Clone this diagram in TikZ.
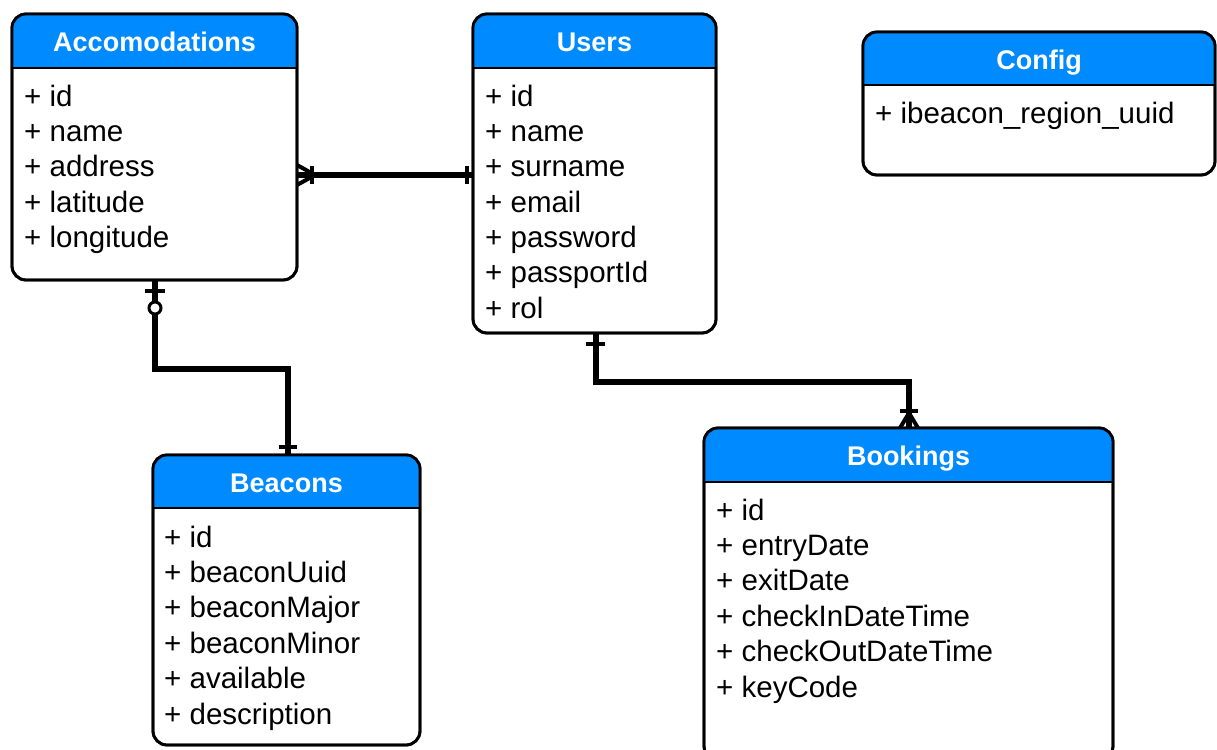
\documentclass[tikz,border=0pt]{standalone}
\usepackage{fontspec}
\setmainfont{Liberation Sans}
\definecolor{hdrblue}{RGB}{0,138,255}
\tikzset{
  x=1pt, y=-1pt,
  tbl/.style={draw=black, line width=2.8pt, rounded corners=14pt, fill=white, inner sep=0pt, outer sep=0pt},
  ttl/.style={text=white, font=\bfseries\fontsize{27}{30}\selectfont, inner sep=0pt, text height=19.5pt, text depth=0pt},
  fld/.style={anchor=west, font=\fontsize{29.5}{34}\selectfont, inner sep=0pt, text height=21pt, text depth=0pt},
  rel/.style={line width=5.2pt},
  relmark/.style={line width=4pt},
}
% #1 name, #2 left, #3 top, #4 right, #5 bottom, #6 header bottom, #7 title
\newcommand{\ertable}[7]{%
  \node[tbl, minimum width={#4pt-#2pt}, minimum height={#5pt-#3pt}] (#1) at ({(#2+#4)/2},{(#3+#5)/2}) {};
  \begin{scope}
    \clip[rounded corners=14pt] (#1.north west) rectangle (#1.south east);
    \fill[hdrblue] (#1.north west) rectangle (#4,#6);
  \end{scope}
  \draw[line width=2.8pt, rounded corners=14pt] (#1.north west) rectangle (#1.south east);
  \draw[line width=2.8pt] (#2,#6) -- (#4,#6);
  \node[ttl] (#1-title) at ({(#2+#4)/2},{(#3+#6)/2+1}) {#7};
}
\begin{document}
\begin{tikzpicture}
\useasboundingbox[fill=white] (0,0) rectangle (1217,749);

% tables
\ertable{acc}{12}{14}{297}{280}{68}{Accomodations}
\ertable{usr}{473}{14}{716}{333}{68}{Users}
\ertable{cfg}{863}{32}{1215}{175}{85}{Config}
\ertable{bcn}{153}{455}{420}{745}{508}{Beacons}
\ertable{bkg}{704}{428}{1113}{760}{482}{Bookings}

% fields
\node[fld] (acc-1) at (24,96)  {+ id};
\node[fld] (acc-2) at (24,131) {+ name};
\node[fld] (acc-3) at (24,166) {+ address};
\node[fld] (acc-4) at (24,202) {+ latitude};
\node[fld] (acc-5) at (24,237) {+ longitude};

\node[fld] (usr-1) at (485,96)  {+ id};
\node[fld] (usr-2) at (485,131) {+ name};
\node[fld] (usr-3) at (485,166) {+ surname};
\node[fld] (usr-4) at (485,202) {+ email};
\node[fld] (usr-5) at (485,237) {+ password};
\node[fld] (usr-6) at (485,272) {+ passportId};
\node[fld] (usr-7) at (485,308) {+ rol};

\node[fld] (cfg-1) at (875,113) {+ ibeacon\_region\_uuid};

\node[fld] (bcn-1) at (164,537) {+ id};
\node[fld] (bcn-2) at (164,572) {+ beaconUuid};
\node[fld] (bcn-3) at (164,607) {+ beaconMajor};
\node[fld] (bcn-4) at (164,643) {+ beaconMinor};
\node[fld] (bcn-5) at (164,678) {+ available};
\node[fld] (bcn-6) at (164,714) {+ description};

\node[fld] (bkg-1) at (716,510) {+ id};
\node[fld] (bkg-2) at (716,545) {+ entryDate};
\node[fld] (bkg-3) at (716,580) {+ exitDate};
\node[fld] (bkg-4) at (716,616) {+ checkInDateTime};
\node[fld] (bkg-5) at (716,651) {+ checkOutDateTime};
\node[fld] (bkg-6) at (716,687) {+ keyCode};

% Accomodations (one or many) -- Users (one)
\draw[rel] (acc.east |- 0,175) -- (usr.west |- 0,175);
\draw[relmark] (467,166) -- (467,184);
\draw[relmark] (312,166) -- (312,184);
\draw[relmark] (acc.east |- 0,165) -- (315,175) -- (acc.east |- 0,185);

% Accomodations (zero or one) -- Beacons (one)
\draw[rel] (acc.south -| 155,0) -- (155,369) -- (288,369) -- (bcn.north -| 288,0);
\draw[relmark] (145,291) -- (165,291);
\draw[line width=3pt, fill=white] (155,308) circle (6);
\draw[relmark] (279,447) -- (297,447);

% Users (one) -- Bookings (one or many)
\draw[rel] (usr.south -| 596,0) -- (596,382) -- (909,382) -- (bkg.north -| 909,0);
\draw[relmark] (586,344) -- (605,344);
\draw[relmark] (900,411) -- (918,411);
\draw[relmark] (bkg.north -| 900,0) -- (909,413) -- (bkg.north -| 918,0);
\end{tikzpicture}
\end{document}
